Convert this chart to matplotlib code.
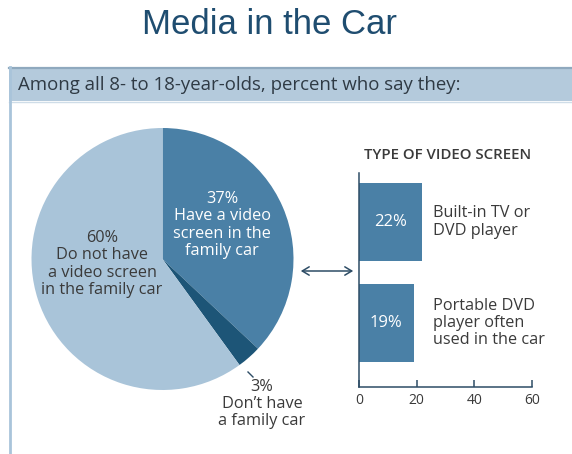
import matplotlib
matplotlib.use("Agg")
import matplotlib.pyplot as plt
from matplotlib.patches import Rectangle, FancyArrowPatch
from matplotlib.lines import Line2D

W, H = 572, 454
DPI = 100

# Pie: share of 8- to 18-year-olds
pie_values = [37, 3, 60]
pie_labels = [
    "Have a video\nscreen in the\nfamily car",
    "Don\u2019t have\na family car",
    "Do not have\na video screen\nin the family car",
]
pie_colors = ["#4a80a6", "#1d5577", "#a9c4d9"]

# Bars: type of video screen
bar_categories = ["Built-in TV or\nDVD player", "Portable DVD\nplayer often\nused in the car"]
bar_values = [22, 19]
bar_ticks = [0, 20, 40, 60]

BODY_FONT = "Open Sans"
TEXT_DARK = "#3a3a3a"
AXIS_COLOR = "#2e4d66"
LABEL_SIZE = 11.7
LINE_SP = 1.1

fig = plt.figure(figsize=(W / DPI, H / DPI), dpi=DPI)
fig.patch.set_facecolor("white")


def fx(px):
    return px / W


def fy(py):
    return 1 - py / H


# Pie
pie_ax = fig.add_axes([fx(31.5), fy(390), fx(262), 262 / H])
pie_ax.pie(pie_values, colors=pie_colors, startangle=90, counterclock=False,
           radius=1.0, wedgeprops=dict(linewidth=0))
pie_ax.set_xlim(-1, 1)
pie_ax.set_ylim(-1, 1)
pie_ax.set_aspect("equal")
pie_ax.axis("off")

# Bar chart
bar_ax = fig.add_axes([fx(359), fy(387), 173 / W, 214 / H])
ypos = [1, 0]
bar_ax.barh(ypos, bar_values, height=0.77, color="#4a80a6", left=0)
bar_ax.set_xlim(0, 60)
bar_ax.set_ylim(-0.634, 1.485)
bar_ax.set_xticks(bar_ticks)
bar_ax.set_xticklabels([str(t) for t in bar_ticks], fontsize=10, color=TEXT_DARK,
                       family=BODY_FONT)
bar_ax.tick_params(axis="x", direction="in", length=5, width=1.1, color=AXIS_COLOR, pad=4)
bar_ax.set_yticks([])
for side in ("top", "right"):
    bar_ax.spines[side].set_visible(False)
for side in ("left", "bottom"):
    bar_ax.spines[side].set_color(AXIS_COLOR)
    bar_ax.spines[side].set_linewidth(1.1)
bar_ax.patch.set_alpha(0)

for y, v, cat in zip(ypos, bar_values, bar_categories):
    bar_ax.text(v / 2, y, f"{v}%", ha="center", va="center", fontsize=12,
                color="white", family=BODY_FONT)
    bar_ax.text(25.5, y, cat, ha="left", va="center", fontsize=LABEL_SIZE,
                color=TEXT_DARK, family=BODY_FONT, linespacing=LINE_SP)

# Overlay in pixel coordinates for frame and annotations
ov = fig.add_axes([0, 0, 1, 1])
ov.set_xlim(0, W)
ov.set_ylim(H, 0)
ov.axis("off")
ov.set_zorder(5)

ov.text(269, 25, "Media in the Car", ha="center", va="center",
        fontsize=25, color="#1f4d70", family="Liberation Sans")

# Header band and panel frame
ov.add_patch(Rectangle((9, 67), W - 9, 34, facecolor="#b4cadc", edgecolor="none"))
ov.add_line(Line2D([9, W], [67.5, 67.5], color="#8fa9be", lw=1.6))
ov.add_line(Line2D([9, W], [101.5, 101.5], color="#cfdde8", lw=1.0))
ov.add_line(Line2D([9.5, 9.5], [67, H], color="#a9c4da", lw=2.0))
ov.text(18, 85, "Among all 8- to 18-year-olds, percent who say they:",
        ha="left", va="center", fontsize=13.4, color="#2f3a44", family=BODY_FONT)

ov.text(222, 225, f"{pie_values[0]}%\n{pie_labels[0]}", ha="center", va="center",
        fontsize=LABEL_SIZE, color="white", family=BODY_FONT, linespacing=LINE_SP)
ov.text(102, 264, f"{pie_values[2]}%\n{pie_labels[2]}", ha="center", va="center",
        fontsize=LABEL_SIZE, color=TEXT_DARK, family=BODY_FONT, linespacing=LINE_SP)
ov.text(262, 404, f"{pie_values[1]}%\n{pie_labels[1]}", ha="center", va="center",
        fontsize=LABEL_SIZE, color=TEXT_DARK, family=BODY_FONT, linespacing=LINE_SP)
ov.add_line(Line2D([248, 253], [372, 377], color="#2e4d66", lw=1.0))

# Connector between the pie and the bars
ov.add_patch(FancyArrowPatch((298, 271), (356, 271), arrowstyle="<->,head_length=5,head_width=3",
                             color=AXIS_COLOR, lw=1.1, mutation_scale=1))

ov.text(448, 155, "TYPE OF VIDEO SCREEN", ha="center", va="center",
        fontsize=10.8, color=TEXT_DARK, family=BODY_FONT, fontweight="semibold")

fig.savefig("out.png", dpi=DPI, facecolor="white")
